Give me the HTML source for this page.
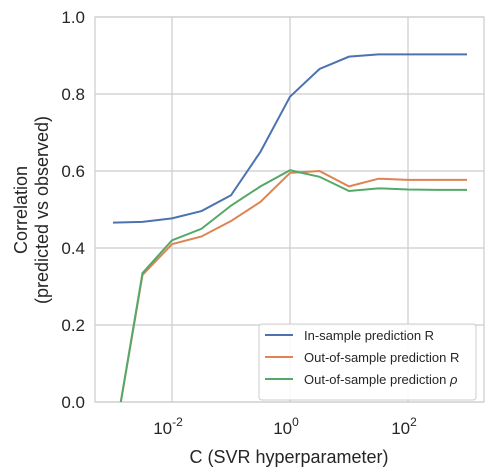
<!DOCTYPE html>
<html><head><meta charset="utf-8"><style>
html,body{margin:0;padding:0;background:#fff;}
svg{display:block;font-family:"Liberation Sans",Arial,sans-serif;}
</style></head><body>
<svg id="chart" width="492" height="476">
<rect x="95" y="17" width="389" height="385" fill="#fff" stroke="#ccc" stroke-width="1.2"/>
<g id="grid"></g>
<g id="series"></g>
<g id="ticks" font-size="17" fill="#262626"></g>
<text x="289" y="463" font-size="18" text-anchor="middle" fill="#262626">C (SVR hyperparameter)</text>
<text transform="translate(27,210) rotate(-90)" font-size="18" text-anchor="middle" fill="#262626"><tspan x="0" dy="0">Correlation</tspan><tspan x="0" dy="21">(predicted vs observed)</tspan></text>
<g>
<rect x="259" y="324" width="217" height="76" rx="3" fill="#fff" fill-opacity="0.85" stroke="#ccc"/>
<g><line x1="265" y1="335" x2="293" y2="335" stroke="#4c72b0" stroke-width="2"/><text x="304" y="340" font-size="13" fill="#262626">In-sample prediction R</text></g>
<g><line x1="265" y1="357" x2="293" y2="357" stroke="#dd8452" stroke-width="2"/><text x="304" y="362" font-size="13" fill="#262626">Out-of-sample prediction R</text></g>
<g><line x1="265" y1="379" x2="293" y2="379" stroke="#55a868" stroke-width="2"/><text x="304" y="384" font-size="13" fill="#262626">Out-of-sample prediction <tspan font-style="italic">ρ</tspan></text></g>
</g>
</svg>
<script>
const logC = [-3,-2.5,-2,-1.5,-1,-0.5,0,0.5,1,1.5,2,2.5,3];
const inSample = [0.466,0.468,0.477,0.496,0.537,0.65,0.793,0.865,0.897,0.903,0.903,0.903,0.903];
const outR = [-0.12,0.33,0.41,0.43,0.47,0.52,0.595,0.60,0.56,0.58,0.577,0.577,0.577];
const outRho = [-0.12,0.335,0.42,0.45,0.51,0.56,0.602,0.585,0.548,0.555,0.552,0.551,0.551];
const yTicks = [0,0.2,0.4,0.6,0.8,1.0];
const xTicks = [-2,0,2];
const NS="http://www.w3.org/2000/svg";
function xs(v){return 290+v*59;}
function ys(v){return 402-v*385;}
const grid=document.getElementById('grid'), ticks=document.getElementById('ticks'), ser=document.getElementById('series');
function mk(t,a){const e=document.createElementNS(NS,t);for(const k in a)e.setAttribute(k,a[k]);return e;}
yTicks.forEach(v=>{
  const l=mk('line',{x1:95,x2:484,y1:ys(v),y2:ys(v),stroke:'#ccc','stroke-width':1.2});
  
  
  grid.appendChild(l);
  const t=mk('text',{x:85,y:ys(v)+6,'text-anchor':'end'});
  t.textContent=v.toFixed(1);
  
  
  ticks.appendChild(t);
});
xTicks.forEach(v=>{
  const l=mk('line',{x1:xs(v),x2:xs(v),y1:17,y2:402,stroke:'#ccc','stroke-width':1.2});
  
  
  grid.appendChild(l);
  const t=mk('text',{x:xs(v)-4,y:434,'text-anchor':'middle'});
  t.innerHTML='10<tspan dy="-8" font-size="12">'+v+'</tspan>';
  
  
  ticks.appendChild(t);
});
const clip=mk('clipPath',{id:'pc'});clip.appendChild(mk('rect',{x:95,y:17,width:389,height:385}));
document.getElementById('chart').appendChild(clip);
ser.setAttribute('clip-path','url(#pc)');
[[inSample,'#4c72b0','line-in-sample'],[outR,'#dd8452','line-out-sample-r'],[outRho,'#55a868','line-out-sample-rho']].forEach(([d,c,n])=>{
  const p=mk('polyline',{points:d.map((v,i)=>xs(logC[i])+','+ys(v)).join(' '),fill:'none',stroke:c,'stroke-width':2});
  
  
  ser.appendChild(p);
});
</script>
</body></html>
